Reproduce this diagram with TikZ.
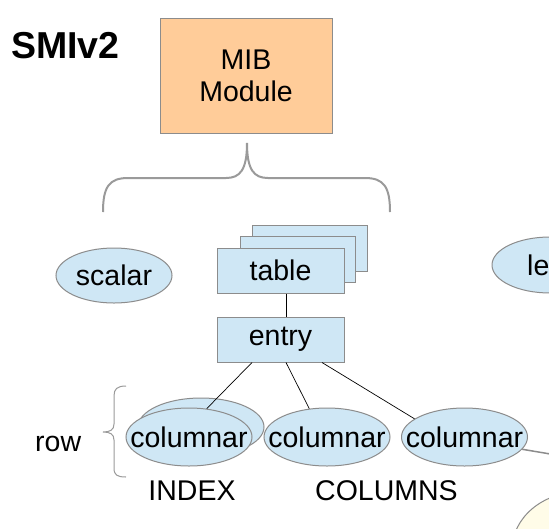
\documentclass[tikz,border=0pt]{standalone}
\usepackage{fontspec}
\setmainfont{Liberation Sans}
\usetikzlibrary{shapes.geometric}
\definecolor{peach}{HTML}{FFCC99}
\definecolor{paleblue}{HTML}{CFE7F5}
\definecolor{bordergray}{HTML}{8C8C8C}
\definecolor{bracegray}{HTML}{9A9A9A}
\definecolor{cream}{HTML}{FFFCE8}
\tikzset{
  txt/.style={font=\fontsize{28.5}{32}\selectfont, text=black},
  bluebox/.style={draw=bordergray, line width=1pt, fill=paleblue, minimum width=127pt, minimum height=45pt, inner sep=0pt, txt},
  backbox/.style={draw=bordergray, line width=1pt, fill=paleblue, minimum width=115pt, minimum height=46pt, inner sep=0pt},
  oval/.style={ellipse, draw=bordergray, line width=1pt, fill=paleblue, inner sep=0pt},
  colnode/.style={oval, minimum width=126pt, minimum height=58pt},
  conn/.style={draw=black, line width=0.7pt},
  bracestyle/.style={draw=bracegray, line width=2pt},
  thinbrace/.style={draw=bracegray, line width=1pt}
}
\begin{document}
\begin{tikzpicture}[x=1pt, y=-1pt]
\useasboundingbox (0,0) rectangle (549,528);
\fill[white] (0,0) rectangle (549,528);
\clip (0,0) rectangle (549,528);

% title
\node[anchor=base west, inner sep=0pt, font=\fontsize{37.5}{40}\selectfont\bfseries] (title) at (11,58) {SMIv2};

% MIB module
\node[draw=bordergray, line width=1pt, fill=peach, minimum width=172pt, minimum height=115pt, inner sep=0pt, align=center, txt] (mib) at (246,76) {MIB\\Module};

% top brace
\coordinate (bl) at (103,212);
\coordinate (br) at (390,212);
\coordinate (btip) at (247,143);
\draw[bracestyle] (bl) .. controls (103,187) and (109,178) .. (128,178) -- (226,178)
  .. controls (240,178) and (247,170) .. (btip)
  .. controls (247,170) and (254,178) .. (268,178) -- (365,178)
  .. controls (384,178) and (390,187) .. (br);

% scalar
\node[oval, minimum width=116pt, minimum height=55pt, label={[txt]center:scalar}] (scalar) at (114,275.5) {};

% partial ellipse at right edge
\node[oval, minimum width=116pt, minimum height=56pt] (leaf) at (550,265) {};
\node[anchor=base west, inner sep=0pt, txt] (leaftxt) at (527,275) {le};

% table stack
\node[backbox] (tback) at (309.5,248) {};
\node[backbox] (tmid) at (297.5,259) {};
\node[bluebox] (table) at (280.5,270.5) {table};

% entry
\node[bluebox] (entry) at (280.5,339.5) {entry};
\draw[conn] ([xshift=5.5pt]table.south) -- ([xshift=5.5pt]entry.north);

% columnars
\node[colnode] (col1back) at (201,427) {};
\node[colnode, label={[txt]center:columnar}] (col2) at (327,437) {};
\node[colnode, label={[txt]center:columnar}] (col3) at (464.5,437) {};
\node[colnode, label={[txt]center:columnar}] (col1) at (189,437) {};
\draw[conn] ([xshift=-28.5pt]entry.south) -- (col1.58);
\draw[conn] ([xshift=5.5pt]entry.south) -- (col2.122);
\draw[conn] ([xshift=41.5pt]entry.south) -- (col3.160.7);

% line off to the right and cream ellipse
\coordinate (offright) at (580,459);
\draw[draw=bordergray, line width=1.5pt] (col3.-12.5) -- (offright);
\node[ellipse, draw=bordergray, line width=1pt, fill=cream, minimum width=136pt, minimum height=116pt] (cream) at (580,550) {};

% row brace
\coordinate (rt) at (126,386);
\coordinate (rb) at (126,477);
\coordinate (rtip) at (103,432);
\draw[thinbrace] (rt) .. controls (117,386) and (114,389) .. (114,396) -- (114,424)
  .. controls (114,430) and (110,432) .. (rtip)
  .. controls (110,432) and (114,434) .. (114,440) -- (114,468)
  .. controls (114,475) and (117,477) .. (rb);

% labels
\node[anchor=base west, inner sep=0pt, txt] (row) at (35,451) {row};
\node[anchor=base, inner sep=0pt, txt] (index) at (192,500) {INDEX};
\node[anchor=base, inner sep=0pt, txt] (columns) at (386.5,500) {COLUMNS};
\end{tikzpicture}
\end{document}
